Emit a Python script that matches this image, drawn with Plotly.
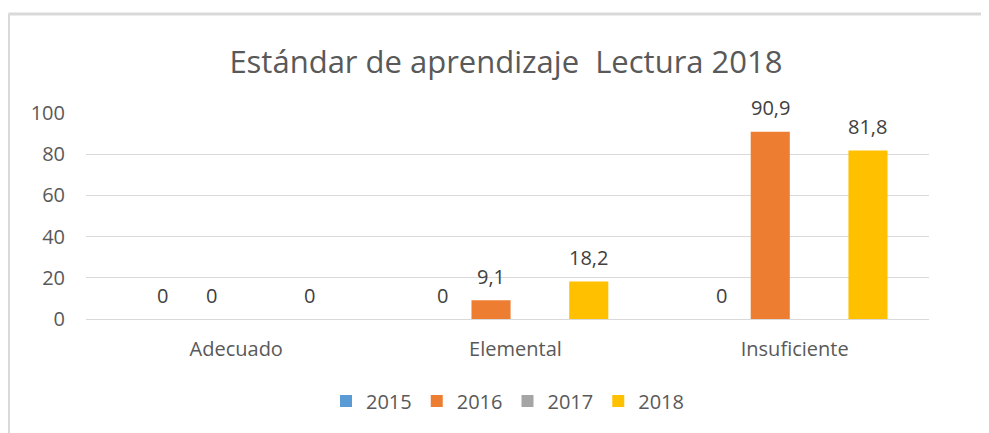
import plotly.graph_objects as go

categories = ["Adecuado", "Elemental", "Insuficiente"]
years = ["2015", "2016", "2017", "2018"]
values_2015 = [0, 0, 0]
values_2016 = [0, 9.1, 90.9]
values_2017 = [None, None, None]
values_2018 = [0, 18.2, 81.8]
colors = ["#5B9BD5", "#ED7D31", "#A5A5A5", "#FFC000"]

series = [values_2015, values_2016, values_2017, values_2018]
font_family = "'Open Sans', sans-serif"
text_color = "#595959"

fig = go.Figure()
for name, vals, color in zip(years, series, colors):
    fig.add_trace(
        go.Bar(
            name=name,
            x=categories,
            y=vals,
            marker_color=color,
            marker_line_width=0,
        )
    )

# plot area is 843 px wide -> slot width per series inside a group
x_range = [-0.538, 2.481]
bargap = 0.3
cat_px = 843 / (x_range[1] - x_range[0])
slot = cat_px * (1 - bargap) / len(years)
for i, vals in enumerate(series):
    for cat, v in zip(categories, vals):
        if v is None:
            continue
        fig.add_annotation(
            x=cat,
            y=v,
            text=f"{v:g}".replace(".", ","),
            showarrow=False,
            xshift=(i - 1.5) * slot,
            yshift=24,
            font=dict(size=20, color="#404040", family=font_family),
        )

# thin frame of the chart area, cut off at right and bottom
line_style = dict(color="#D9D9D9", width=3)
fig.add_shape(type="line", xref="paper", yref="paper",
              x0=-0.092, x1=1.1, y0=1.48, y1=1.48, line=line_style)
fig.add_shape(type="line", xref="paper", yref="paper",
              x0=-0.092, x1=-0.092, y0=1.48, y1=-0.7, line=line_style)

# the page body adds an 8px margin, so the figure is 8px smaller
fig.update_layout(
    width=981,
    height=425,
    margin=dict(l=78, r=60, t=105, b=114),
    paper_bgcolor="white",
    plot_bgcolor="white",
    barmode="group",
    bargap=bargap,
    bargroupgap=0.2,
    font=dict(family=font_family, color=text_color, size=20),
    title=dict(
        text="Estándar de aprendizaje  Lectura 2018",
        x=0.5076,
        xanchor="center",
        y=1 - 54 / 425,
        yanchor="middle",
        font=dict(size=31, color=text_color, family=font_family),
    ),
    xaxis=dict(
        range=x_range,
        showgrid=False,
        showline=True,
        linecolor="#D9D9D9",
        linewidth=1,
        ticks="",
        ticklabelstandoff=12,
        tickfont=dict(size=20),
    ),
    yaxis=dict(
        range=[0, 100],
        tickvals=[0, 20, 40, 60, 80, 100],
        showgrid=True,
        gridcolor="#D9D9D9",
        gridwidth=1,
        zeroline=False,
        showline=False,
        ticks="",
        ticklabelstandoff=20,
        tickfont=dict(size=20),
    ),
    legend=dict(
        orientation="h",
        x=0.5,
        xanchor="center",
        y=-0.398,
        yanchor="middle",
        font=dict(size=20),
        itemclick=False,
    ),
    showlegend=True,
)

fig.write_html("out.html")
